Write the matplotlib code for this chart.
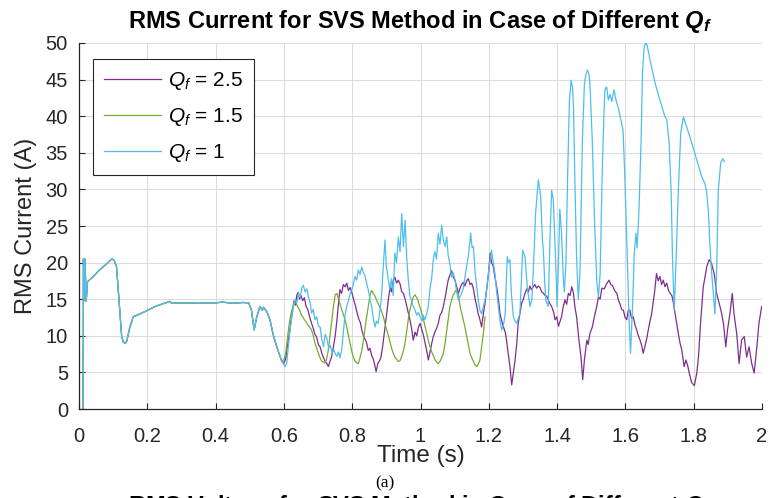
import matplotlib
matplotlib.use("Agg")
import matplotlib.pyplot as plt

plt.rcParams['font.family'] = ['Liberation Sans', 'DejaVu Sans']
plt.rcParams['mathtext.fontset'] = 'custom'
plt.rcParams['mathtext.rm'] = 'Liberation Sans'
plt.rcParams['mathtext.it'] = 'Liberation Sans:italic'
plt.rcParams['mathtext.bf'] = 'Liberation Sans:bold'
plt.rcParams['mathtext.bfit'] = 'Liberation Sans:italic:bold'

# ---------------- data ----------------
# common start (all three curves coincide)
t_start = [0.012, 0.013, 0.0155, 0.0175, 0.021, 0.025, 0.04, 0.06, 0.08, 0.096, 0.103,
           0.110, 0.115, 0.120, 0.125, 0.130, 0.136, 0.140, 0.149, 0.159, 0.174, 0.193,
           0.2225, 0.247, 0.266, 0.27, 0.30, 0.35, 0.40, 0.42, 0.45, 0.48, 0.497,
           0.505, 0.513, 0.520, 0.530, 0.537, 0.540, 0.545, 0.550, 0.559, 0.569, 0.579, 0.594]
v_start = [0.0, 20.5, 14.8, 20.5, 14.7, 17.4, 18.0, 19.0, 19.8, 20.5, 20.3,
           19.4, 16.3, 13.1, 9.9, 9.1, 9.0, 9.3, 11.2, 12.6, 12.9, 13.3,
           14.0, 14.4, 14.7, 14.5, 14.5, 14.45, 14.5, 14.6, 14.45, 14.55, 14.5,
           13.5, 10.8, 12.5, 14.0, 13.5, 13.9, 13.6, 13.3, 12.2, 10.1, 8.5, 6.5]

# Q_f = 2.5 (after the common start)
t_q25 = [0.600, 0.605, 0.610, 0.615, 0.620, 0.625, 0.630, 0.634, 0.638, 0.642, 0.646, 0.650, 0.655,
         0.660, 0.665, 0.670, 0.676, 0.681, 0.686, 0.691, 0.696, 0.701, 0.706, 0.711, 0.716, 0.721,
         0.726, 0.730, 0.735, 0.740, 0.745, 0.750, 0.755, 0.760, 0.764, 0.769, 0.774, 0.779, 0.784,
         0.789, 0.794, 0.799, 0.804, 0.810, 0.815, 0.820, 0.824, 0.828, 0.833, 0.838, 0.842, 0.847,
         0.852, 0.857, 0.862, 0.866, 0.870, 0.875, 0.880, 0.884, 0.889, 0.893, 0.896, 0.901, 0.906,
         0.911, 0.915, 0.920, 0.925, 0.930, 0.935, 0.940, 0.945, 0.950, 0.955, 0.960, 0.964, 0.969,
         0.974, 0.979, 0.984, 0.989, 0.994, 0.999, 1.004, 1.008, 1.013, 1.018, 1.023, 1.028, 1.033,
         1.0375, 1.042, 1.047, 1.052, 1.057, 1.062, 1.067, 1.072, 1.077, 1.081, 1.086, 1.091, 1.096,
         1.101, 1.106, 1.111, 1.116, 1.120, 1.125, 1.130, 1.135, 1.140, 1.145, 1.150, 1.155, 1.160,
         1.165, 1.169, 1.174, 1.179, 1.184, 1.189, 1.194, 1.199, 1.204, 1.208, 1.213, 1.218, 1.223,
         1.228, 1.233, 1.238, 1.243, 1.248, 1.252, 1.257, 1.262, 1.267, 1.272, 1.277, 1.282, 1.286,
         1.291, 1.296, 1.301, 1.306, 1.311, 1.316, 1.320, 1.325, 1.330, 1.335, 1.340, 1.345, 1.350,
         1.355, 1.360, 1.365, 1.370, 1.375, 1.380, 1.384, 1.390, 1.394, 1.399, 1.404, 1.409, 1.413,
         1.418, 1.423, 1.428, 1.433, 1.438, 1.443, 1.448, 1.452, 1.457, 1.464, 1.470, 1.475, 1.480,
         1.487, 1.491, 1.496, 1.503, 1.511, 1.516, 1.521, 1.526, 1.531, 1.538, 1.545, 1.552, 1.557,
         1.562, 1.568, 1.575, 1.580, 1.584, 1.589, 1.594, 1.599, 1.604, 1.608, 1.613, 1.618, 1.623,
         1.628, 1.633, 1.638, 1.643, 1.648, 1.652, 1.657, 1.662, 1.667, 1.672, 1.677, 1.681, 1.685,
         1.691, 1.696, 1.701, 1.706, 1.711, 1.716, 1.721, 1.726, 1.731, 1.736, 1.741, 1.747, 1.755,
         1.760, 1.765, 1.772, 1.777, 1.782, 1.787, 1.794, 1.802, 1.809, 1.814, 1.820, 1.828, 1.833,
         1.838, 1.845, 1.852, 1.856, 1.860, 1.867, 1.877, 1.882, 1.887, 1.894, 1.899, 1.906, 1.913,
         1.918, 1.926, 1.933, 1.940, 1.948, 1.955, 1.962, 1.970, 1.977, 1.985, 1.991, 1.999]
v_q25 = [6.3, 6.8, 8.5, 10.0, 11.8, 13.5, 14.8, 14.2, 15.6, 15.9, 15.0, 15.5, 14.8,
         15.2, 14.0, 13.6, 12.5, 11.7, 11.0, 10.2, 9.8, 8.8, 8.5, 7.6, 7.0, 6.5,
         6.2, 5.8, 6.5, 7.2, 8.5, 9.9, 12.0, 14.5, 16.3, 15.8, 17.0, 16.7, 17.2,
         16.2, 16.6, 15.9, 15.0, 14.0, 13.0, 12.2, 11.8, 10.8, 10.0, 9.5, 9.1, 8.0,
         8.3, 7.3, 6.8, 6.0, 5.1, 6.2, 6.6, 7.0, 8.5, 10.0, 11.2, 13.0, 15.0,
         16.7, 16.0, 17.5, 18.0, 17.2, 17.6, 17.1, 16.0, 15.8, 15.0, 14.0, 13.2, 12.2,
         11.0, 9.4, 10.5, 10.0, 11.2, 11.7, 10.8, 10.2, 9.1, 8.0, 6.7, 7.8, 9.0,
         9.9, 10.5, 11.0, 11.7, 12.8, 13.2, 14.0, 15.2, 16.5, 17.6, 18.3, 18.9, 18.0,
         17.6, 16.7, 15.8, 16.5, 17.0, 17.3, 16.8, 17.5, 17.8, 17.0, 17.2, 16.4, 15.0,
         14.0, 13.0, 12.2, 11.2, 13.0, 14.5, 16.4, 18.5, 21.3, 20.0, 19.5, 18.0, 16.7,
         15.0, 13.0, 12.0, 11.2, 10.5, 9.4, 7.5, 5.8, 3.3, 5.0, 6.7, 9.0, 11.7,
         13.0, 14.4, 15.0, 15.8, 16.4, 16.0, 16.8, 16.3, 16.7, 17.0, 16.5, 16.8, 16.6,
         16.0, 15.8, 15.5, 15.4, 14.8, 14.3, 14.0, 13.2, 12.2, 12.6, 11.3, 12.0, 12.6,
         14.0, 14.9, 14.3, 15.8, 15.5, 16.7, 15.8, 14.0, 12.6, 9.4, 7.1, 4.0, 6.7,
         9.4, 8.8, 10.3, 11.2, 13.0, 14.0, 15.3, 15.0, 16.5, 16.4, 17.1, 17.6, 17.0,
         16.9, 16.2, 15.8, 14.8, 14.4, 13.6, 13.5, 12.5, 12.2, 13.4, 13.5, 12.4, 12.6,
         11.5, 10.8, 10.0, 9.4, 8.6, 7.6, 8.5, 9.5, 10.8, 12.0, 13.0, 14.5, 15.8,
         18.5, 17.5, 18.1, 17.0, 17.6, 16.7, 17.2, 16.2, 15.8, 15.5, 14.4, 12.6, 10.3,
         9.0, 8.1, 5.8, 6.7, 6.0, 4.9, 3.6, 3.2, 4.9, 7.1, 11.7, 16.7, 18.0,
         19.4, 20.4, 19.9, 19.2, 18.5, 15.8, 14.0, 13.0, 11.7, 8.5, 10.8, 13.0, 15.8,
         13.0, 10.3, 6.2, 9.4, 9.9, 7.1, 8.5, 6.2, 4.9, 8.5, 11.7, 14.0]

# Q_f = 1.5 (after the common start)
t_q15 = [0.600, 0.605, 0.610, 0.615, 0.620, 0.625, 0.630, 0.635, 0.640, 0.645, 0.650, 0.655,
         0.660, 0.665, 0.670, 0.675, 0.681, 0.686, 0.691, 0.696, 0.701, 0.706, 0.711, 0.716,
         0.720, 0.725, 0.730, 0.735, 0.740, 0.745, 0.750, 0.755, 0.760, 0.765, 0.770, 0.775,
         0.779, 0.785, 0.790, 0.794, 0.799, 0.804, 0.808, 0.813, 0.818, 0.823, 0.828, 0.832,
         0.837, 0.842, 0.847, 0.852, 0.857, 0.862, 0.867, 0.872, 0.877, 0.884, 0.890, 0.896,
         0.901, 0.906, 0.911, 0.916, 0.921, 0.926, 0.930, 0.935, 0.940, 0.945, 0.950, 0.955,
         0.960, 0.965, 0.969, 0.974, 0.979, 0.984, 0.989, 0.994, 0.999, 1.004, 1.009, 1.013,
         1.018, 1.023, 1.028, 1.033, 1.0375, 1.042, 1.047, 1.052, 1.057, 1.062, 1.067, 1.072,
         1.077, 1.081, 1.086, 1.091, 1.096, 1.101, 1.106, 1.111, 1.116, 1.121, 1.125, 1.130,
         1.135, 1.140, 1.145, 1.150, 1.155, 1.160, 1.165, 1.170, 1.174, 1.179, 1.184, 1.189]
v_q15 = [6.8, 7.5, 9.5, 11.5, 12.8, 13.8, 14.3, 14.5, 14.0, 13.6, 13.0, 12.6,
         12.2, 11.9, 11.5, 11.2, 10.8, 10.0, 9.0, 8.3, 7.6, 7.0, 6.5, 6.4,
         6.3, 6.8, 8.0, 10.0, 12.0, 14.0, 15.6, 15.8, 15.0, 14.2, 13.5, 12.8,
         12.2, 11.0, 9.8, 9.0, 7.8, 7.0, 6.6, 6.3, 6.2, 7.0, 8.0, 9.1,
         10.8, 12.5, 14.0, 15.5, 16.2, 15.8, 15.4, 14.8, 14.3, 13.6, 12.8, 11.7,
         10.8, 10.0, 9.1, 8.2, 7.5, 7.0, 6.8, 6.5, 6.6, 7.2, 8.0, 9.1,
         10.8, 12.5, 13.6, 14.5, 15.3, 15.6, 15.2, 14.6, 13.8, 13.0, 12.2, 11.3,
         10.4, 9.3, 8.5, 7.8, 7.3, 6.8, 6.4, 6.2, 6.5, 7.0, 7.6, 9.0,
         10.8, 12.2, 14.0, 14.9, 15.6, 16.0, 16.3, 15.5, 14.0, 13.0, 12.2, 11.2,
         10.0, 8.8, 7.6, 7.0, 6.5, 6.0, 5.8, 6.2, 6.7, 8.5, 10.3, 12.6]

# Q_f = 1 (after the common start)
t_q1 = [0.603, 0.608, 0.613, 0.618, 0.623, 0.628, 0.633, 0.638, 0.643, 0.648, 0.652, 0.657,
        0.662, 0.667, 0.672, 0.677, 0.681, 0.686, 0.691, 0.696, 0.701, 0.706, 0.711, 0.716,
        0.721, 0.726, 0.731, 0.736, 0.741, 0.746, 0.750, 0.755, 0.760, 0.764, 0.769, 0.774,
        0.779, 0.784, 0.789, 0.794, 0.799, 0.804, 0.808, 0.813, 0.818, 0.823, 0.828, 0.832,
        0.837, 0.842, 0.847, 0.852, 0.857, 0.862, 0.867, 0.871, 0.876, 0.881, 0.886, 0.891,
        0.896, 0.900, 0.905, 0.910, 0.915, 0.920, 0.925, 0.930, 0.935, 0.940, 0.945, 0.950,
        0.955, 0.960, 0.964, 0.969, 0.974, 0.979, 0.984, 0.989, 0.994, 0.999, 1.004, 1.008,
        1.013, 1.018, 1.023, 1.028, 1.033, 1.0375, 1.042, 1.047, 1.052, 1.057, 1.062, 1.067,
        1.072, 1.077, 1.081, 1.086, 1.091, 1.096, 1.101, 1.106, 1.111, 1.116, 1.120, 1.125,
        1.130, 1.135, 1.140, 1.147, 1.151, 1.155, 1.160, 1.165, 1.169, 1.174, 1.179, 1.184,
        1.189, 1.194, 1.199, 1.204, 1.208, 1.213, 1.218, 1.223, 1.228, 1.233, 1.238, 1.243,
        1.248, 1.251, 1.254, 1.258, 1.262, 1.266, 1.272, 1.277, 1.282, 1.287, 1.291, 1.295,
        1.299, 1.306, 1.313, 1.321, 1.326, 1.330, 1.337, 1.345, 1.352, 1.357, 1.360, 1.364,
        1.367, 1.374, 1.379, 1.384, 1.389, 1.397, 1.400, 1.404, 1.408, 1.413, 1.418, 1.421,
        1.426, 1.431, 1.436, 1.441, 1.445, 1.448, 1.452, 1.457, 1.462, 1.467, 1.474, 1.480,
        1.485, 1.489, 1.493, 1.496, 1.503, 1.509, 1.516, 1.521, 1.526, 1.532, 1.537, 1.540,
        1.545, 1.550, 1.555, 1.560, 1.564, 1.567, 1.571, 1.575, 1.580, 1.585, 1.593, 1.598,
        1.604, 1.611, 1.615, 1.621, 1.626, 1.631, 1.634, 1.637, 1.640, 1.646, 1.650, 1.655,
        1.660, 1.664, 1.672, 1.687, 1.701, 1.716, 1.721, 1.728, 1.734, 1.738, 1.743, 1.747,
        1.755, 1.762, 1.770, 1.779, 1.794, 1.809, 1.823, 1.833, 1.838, 1.843, 1.847, 1.851,
        1.857, 1.862, 1.867, 1.872, 1.879, 1.885, 1.890]
v_q1 = [5.8, 6.2, 8.5, 10.8, 12.5, 14.0, 15.0, 14.6, 15.8, 15.2, 16.5, 16.9,
        16.0, 16.4, 15.3, 14.5, 13.1, 13.6, 12.2, 12.6, 11.3, 11.2, 9.5, 8.5,
        10.2, 9.6, 8.3, 8.7, 7.6, 8.1, 7.6, 7.2, 7.8, 7.0, 8.0, 10.5,
        12.8, 14.0, 14.8, 15.8, 16.3, 17.2, 18.1, 17.6, 19.0, 18.4, 19.4, 18.7,
        18.3, 17.2, 16.3, 15.0, 14.0, 12.3, 11.2, 12.0, 11.7, 13.4, 15.4, 19.5,
        23.1, 19.4, 18.0, 16.3, 17.8, 15.5, 21.3, 20.0, 23.5, 21.5, 26.7, 22.2,
        25.8, 20.4, 17.8, 15.4, 14.8, 14.0, 13.5, 12.8, 13.2, 12.6, 12.0, 12.8,
        12.2, 13.0, 14.0, 16.5, 18.0, 20.4, 21.5, 20.5, 24.0, 22.5, 25.1, 23.0,
        22.2, 23.5, 21.0, 19.8, 18.0, 18.6, 17.6, 16.0, 14.9, 15.4, 15.8, 16.4,
        18.0, 19.5, 20.8, 24.0, 22.0, 22.2, 18.6, 16.5, 14.9, 13.5, 13.0, 14.0,
        14.9, 16.5, 18.5, 20.5, 21.7, 20.0, 18.5, 16.0, 14.0, 12.0, 10.8, 11.5,
        13.0, 17.0, 20.8, 20.0, 20.4, 15.8, 12.6, 12.0, 11.7, 12.5, 13.0, 17.0,
        21.7, 20.8, 16.4, 14.0, 15.0, 18.6, 26.7, 31.3, 29.0, 23.1, 21.5, 17.0,
        14.9, 14.0, 23.1, 29.9, 28.5, 18.6, 14.0, 20.0, 27.3, 24.0, 18.0, 16.0,
        20.0, 32.2, 42.0, 44.9, 44.0, 41.3, 31.3, 20.8, 15.0, 18.5, 36.7, 44.5,
        45.8, 46.3, 45.8, 44.5, 36.7, 26.7, 17.6, 15.3, 18.5, 32.2, 40.0, 43.6,
        44.0, 42.2, 43.0, 42.0, 43.0, 43.6, 42.5, 41.8, 41.0, 39.9, 38.1, 32.2,
        23.1, 11.7, 7.6, 14.0, 21.3, 24.0, 22.0, 24.5, 27.6, 36.7, 45.9, 49.5,
        50.0, 49.6, 47.7, 44.5, 42.2, 39.9, 39.6, 36.4, 29.6, 20.5, 13.5, 18.5,
        29.9, 37.7, 39.9, 38.6, 36.4, 34.0, 31.8, 30.8, 29.6, 27.0, 23.0, 19.6,
        15.9, 13.0, 18.5, 29.9, 33.6, 34.2, 33.8]

labels = [r'$Q_f$ = 2.5', r'$Q_f$ = 1.5', r'$Q_f$ = 1']
colors = ['#7E2F8E', '#77AC30', '#4DBEEE']
x_ticks = [0, 0.2, 0.4, 0.6, 0.8, 1.0, 1.2, 1.4, 1.6, 1.8, 2.0]
x_ticklabels = ['0', '0.2', '0.4', '0.6', '0.8', '1', '1.2', '1.4', '1.6', '1.8', '2']
y_ticks = [0, 5, 10, 15, 20, 25, 30, 35, 40, 45, 50]

# ---------------- figure ----------------
fig = plt.figure(figsize=(7.69, 4.98), dpi=100)
ax = fig.add_axes([79 / 769, 89 / 498, 683 / 769, 366 / 498])

series = [(t_q25, v_q25), (t_q15, v_q15), (t_q1, v_q1)]
for (ts, vs), lab, col in zip(series, labels, colors):
    ax.plot(t_start + ts, v_start + vs, color=col, lw=0.9, label=lab)

ax.set_xlim(0, 2)
ax.set_ylim(0, 50)
ax.set_xticks(x_ticks)
ax.set_xticklabels(x_ticklabels)
ax.set_yticks(y_ticks)
ax.grid(True, color='#dcdcdc', lw=0.8)
ax.set_axisbelow(True)
for s in ['top', 'right']:
    ax.spines[s].set_visible(False)
for s in ['left', 'bottom']:
    ax.spines[s].set_color('#262626')
    ax.spines[s].set_linewidth(0.9)
ax.tick_params(direction='in', length=4, width=0.8, colors='#262626', labelsize=14.5)
ax.tick_params(axis='x', pad=13)
ax.tick_params(axis='y', pad=8)

ax.set_xlabel('Time (s)', fontsize=17.5, color='#262626', labelpad=-1)
ax.set_ylabel('RMS Current (A)', fontsize=17, color='#262626', labelpad=6)
ax.set_title(r'RMS Current for SVS Method in Case of Different $\mathbfit{Q_f}$',
             fontsize=17, fontweight='bold', pad=11)

leg = ax.legend(loc='upper left', bbox_to_anchor=(14 / 683, 1 - 16 / 366),
                borderaxespad=0, fontsize=15, handlelength=2.75, handletextpad=0.35,
                labelspacing=0.68, borderpad=0.52, fancybox=False, framealpha=1)
leg.get_frame().set_edgecolor('#262626')
leg.get_frame().set_linewidth(0.8)

fig.text(0.5, (498 - 483) / 498, '(a)', ha='center', va='center',
         fontsize=12.5, family='Liberation Serif')
fig.text(420 / 769, (498 - 493) / 498,
         r'RMS Voltage for SVS Method in Case of Different $\mathbfit{Q_f}$',
         ha='center', va='top', fontsize=17, fontweight='bold')

fig.savefig('out.png', dpi=100)
